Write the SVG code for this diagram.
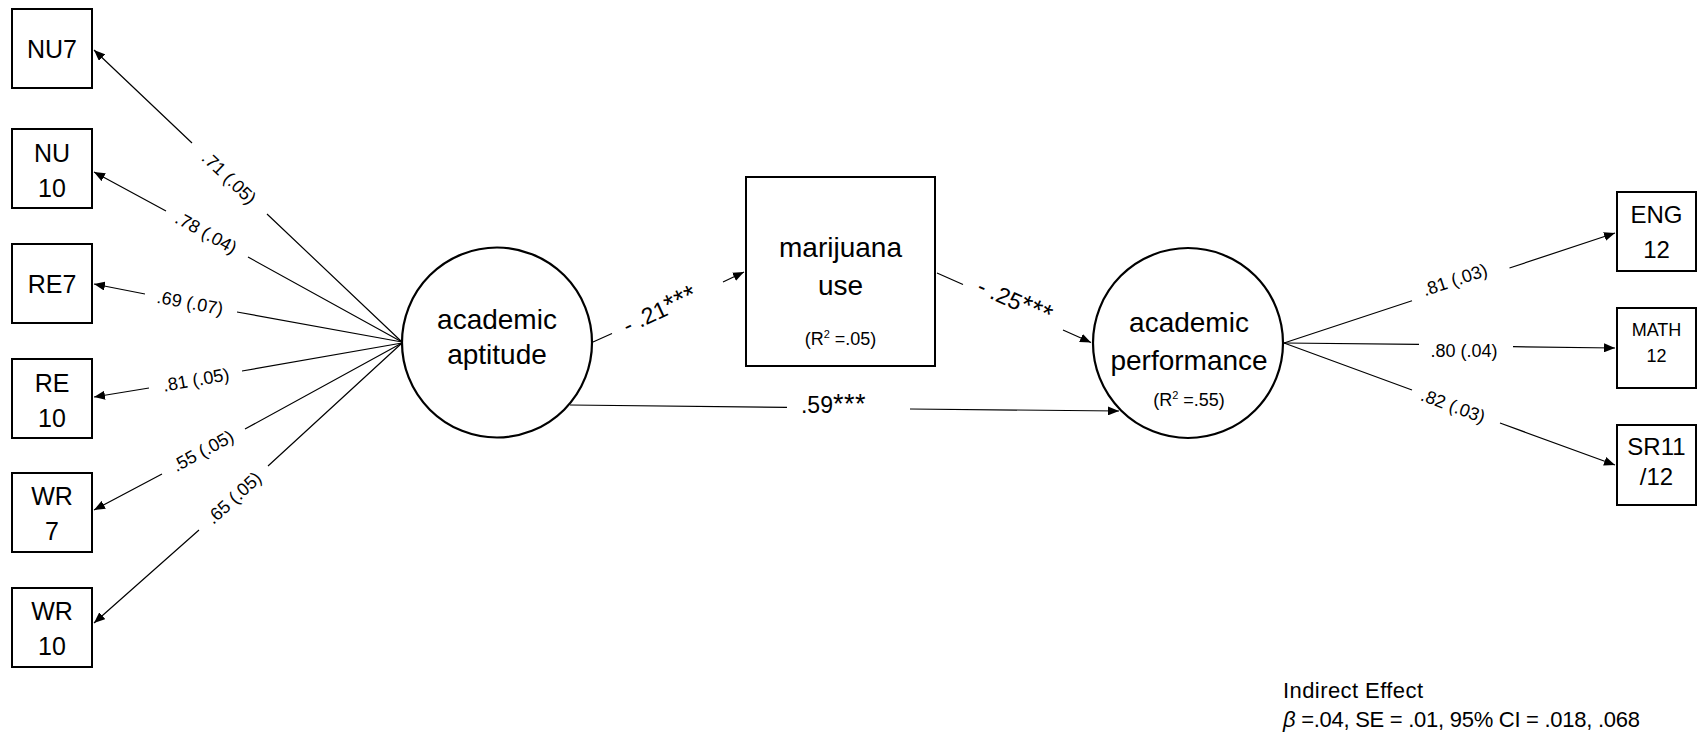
<svg xmlns="http://www.w3.org/2000/svg" width="1699" height="737" viewBox="0 0 1699 737">
<style>
text{font-family:"Liberation Sans",Arial,sans-serif;fill:#000}
.box{fill:#fff;stroke:#000;stroke-width:2}
.lat{fill:#fff;stroke:#000;stroke-width:2.2}
.big{font-size:28px;text-anchor:middle}
.ind{font-size:25px;text-anchor:middle}
.indr{font-size:24px;text-anchor:middle}
.sm{font-size:18px;text-anchor:middle}
.lbl{font-size:18px;text-anchor:middle}
.mid{font-size:23px;text-anchor:middle}
.ast{font-size:27px;letter-spacing:0.5px}
.con{fill:none;stroke:#000;stroke-width:1.2;marker-end:url(#ah)}
.note{font-size:22px}
</style>
<defs>
<marker id="ah" markerUnits="userSpaceOnUse" markerWidth="11" markerHeight="9" viewBox="0 0 11 9" refX="11" refY="4.5" orient="auto">
<path d="M0,0 L11,4.5 L0,9 z" fill="#000"/>
</marker>
</defs>
<rect width="1699" height="737" fill="#fff"/>

<g id="connectors">
<path class="con" d="M402,342 L267,214 M192,143 L94,50"/>
<path class="con" d="M402,342 L248,257 M166,211 L94,172"/>
<path class="con" d="M402,342 L237,312 M145,294 L94,284"/>
<path class="con" d="M402,343 L242,371 M149,388 L94,397"/>
<path class="con" d="M402,343 L245,429 M162,474 L94,510"/>
<path class="con" d="M402,343 L268,466 M199,530 L94,623"/>
<path class="con" d="M593,342 L612,333.5 M723,282 L744,272"/>
<path class="con" d="M937,273 L963,284.5 M1063,330 L1091,342.5"/>
<path class="con" d="M570,405 L787,407.3 M910,409 L1119,411"/>
<path class="con" d="M1284,343 L1412,300.7 M1509.5,268 L1615,233"/>
<path class="con" d="M1284,343 L1419,344.4 M1513,346.7 L1615,348"/>
<path class="con" d="M1284,343 L1412,390 M1500,423 L1615,465"/>
<text class="lbl" transform="translate(229,178) rotate(43.6)" y="6">.71 (.05)</text>
<text class="lbl" transform="translate(206,233) rotate(29)" y="6">.78 (.04)</text>
<text class="lbl" transform="translate(190,303) rotate(10.7)" y="6">.69 (.07)</text>
<text class="lbl" transform="translate(196,380) rotate(-10)" y="6">.81 (.05)</text>
<text class="lbl" transform="translate(203,451) rotate(-28.5)" y="6">.55 (.05)</text>
<text class="lbl" transform="translate(234,498) rotate(-42.4)" y="6">.65 (.05)</text>
<text class="mid" transform="translate(660,310) rotate(-25)" y="8">- .21<tspan class="ast">***</tspan></text>
<text class="mid" transform="translate(1015,301) rotate(24.2)" y="8">- .25<tspan class="ast">***</tspan></text>
<text class="mid" x="833.5" y="413">.59<tspan class="ast">***</tspan></text>
<text class="lbl" transform="translate(1455,280) rotate(-18.3)" y="6">.81 (.03)</text>
<text class="lbl" x="1464" y="357">.80 (.04)</text>
<text class="lbl" transform="translate(1453,406) rotate(20.2)" y="6">.82 (.03)</text>
</g>

<g id="NU7"><rect class="box" x="12" y="9" width="80" height="79"/><text class="ind" x="52" y="58">NU7</text></g>
<g id="NU10"><rect class="box" x="12" y="129" width="80" height="79"/><text class="ind" x="52" y="162">NU</text><text class="ind" x="52" y="197">10</text></g>
<g id="RE7"><rect class="box" x="12" y="244" width="80" height="79"/><text class="ind" x="52" y="293">RE7</text></g>
<g id="RE10"><rect class="box" x="12" y="359" width="80" height="79"/><text class="ind" x="52" y="392">RE</text><text class="ind" x="52" y="427">10</text></g>
<g id="WR7"><rect class="box" x="12" y="473" width="80" height="79"/><text class="ind" x="52" y="505">WR</text><text class="ind" x="52" y="540">7</text></g>
<g id="WR10"><rect class="box" x="12" y="588" width="80" height="79"/><text class="ind" x="52" y="620">WR</text><text class="ind" x="52" y="655">10</text></g>

<g id="academic-aptitude"><circle class="lat" cx="497" cy="342.5" r="95"/><text class="big" x="497" y="329">academic</text><text class="big" x="497" y="364">aptitude</text></g>

<g id="marijuana-use"><rect class="box" x="746" y="177" width="189" height="189"/><text class="big" x="840.5" y="257">marijuana</text><text class="big" x="840.5" y="295">use</text><text class="sm" x="840.5" y="345">(R<tspan font-size="11" dy="-7">2</tspan><tspan dy="7"> =.05)</tspan></text></g>

<g id="academic-performance"><circle class="lat" cx="1188" cy="343" r="95"/><text class="big" x="1189" y="332">academic</text><text class="big" x="1189" y="370">performance</text><text class="sm" x="1189" y="406">(R<tspan font-size="11" dy="-7">2</tspan><tspan dy="7"> =.55)</tspan></text></g>

<g id="ENG12"><rect class="box" x="1617" y="192" width="79" height="79"/><text class="indr" x="1656.5" y="223">ENG</text><text class="indr" x="1656.5" y="258">12</text></g>
<g id="MATH12"><rect class="box" x="1617" y="308" width="79" height="80"/><text class="sm" x="1656.5" y="336">MATH</text><text class="sm" x="1656.5" y="362">12</text></g>
<g id="SR11-12"><rect class="box" x="1617" y="425" width="79" height="80"/><text class="indr" x="1656.5" y="455">SR11</text><text class="indr" x="1656.5" y="485">/12</text></g>

<g id="indirect-effect">
<text class="note" x="1283" y="698" textLength="140">Indirect Effect</text>
<text class="note" x="1283" y="727" textLength="357"><tspan font-style="italic">β</tspan> =.04, SE = .01, 95% CI = .018, .068</text>
</g>
</svg>
